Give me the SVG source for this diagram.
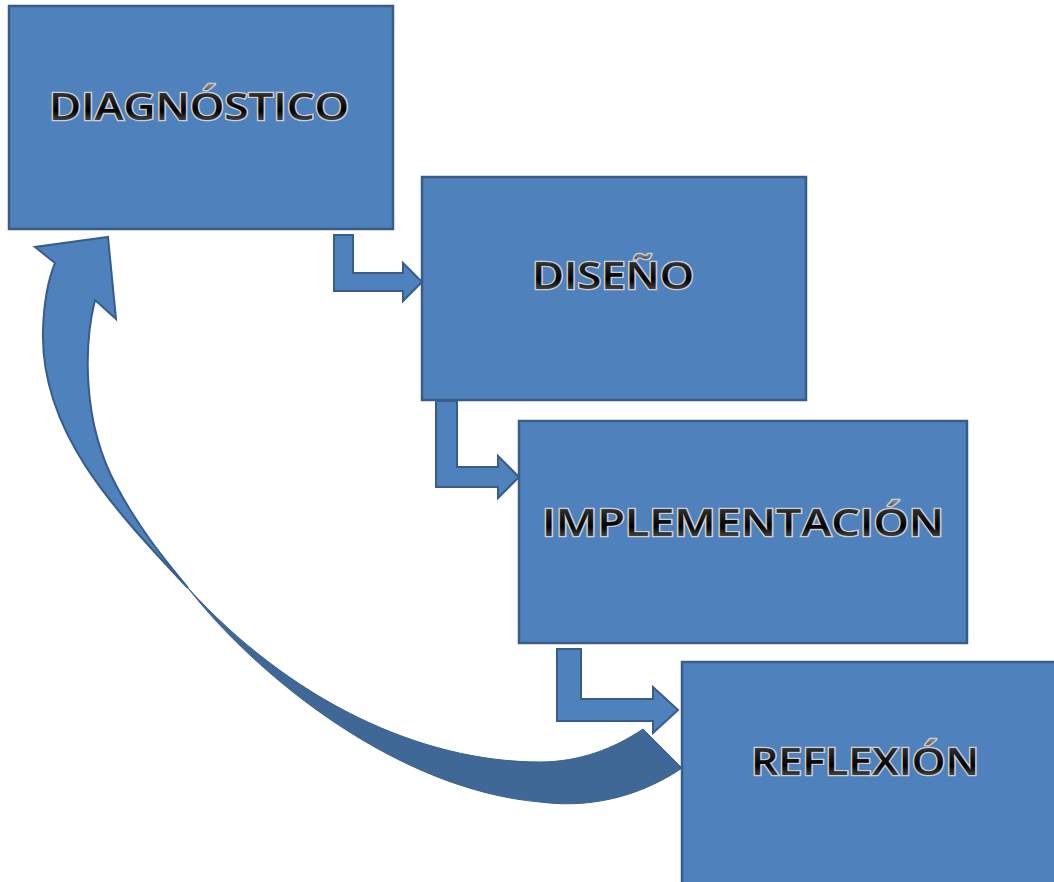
<svg xmlns="http://www.w3.org/2000/svg" width="1054" height="882" viewBox="0 0 1054 882">
  <defs>
    <linearGradient id="metal" x1="0" y1="0" x2="0" y2="1">
      <stop offset="0" stop-color="#b0b0b0"/>
      <stop offset="0.3" stop-color="#2a2a2a"/>
      <stop offset="0.6" stop-color="#000000"/>
      <stop offset="1" stop-color="#909090"/>
    </linearGradient>
    <style>
      .box { fill: #4F81BD; stroke: #385D8A; stroke-width: 2.5; }
      .conn { fill: #4F81BD; stroke: #385D8A; stroke-width: 2; stroke-linejoin: miter; }
      .back { fill: #3F6897; stroke: #3A6190; stroke-width: 1; }
      .lbl { font-family: "Open Sans", "Liberation Sans", sans-serif; font-size: 37px; font-weight: 600;
             fill: url(#metal); stroke: #cfcfcf; stroke-width: 2.6; paint-order: stroke fill; text-anchor: middle; }
    </style>
  </defs>

  <g id="connectors">
    <!-- bent arrows -->
    <polygon class="conn" points="334,235 353,235 353,273 403,273 403,263 422,282 403,301 403,291 334,291"/>
    <polygon class="conn" points="436,401 457,401 457,467 498,467 498,456 519,477 498,498 498,487 436,487"/>
    <polygon class="conn" points="557,649 581,649 581,699 653,699 653,687 678,710 653,733 653,721 557,721"/>
    <!-- curved return arrow: back face -->
    <path class="back" d="M188,588 C260,680 400,790 540,802 C600,810 650,790 682,768 L643,729 C615,748 580,762 540,762 C420,762 290,700 188,588 Z"/>
    <!-- curved return arrow: front face with head -->
    <path class="conn" d="M188,588 C165,560 140,530 117,487 C80,420 85,340 95,300 L116,319 L108,237 L35,247 L55,263 C48,280 44,300 43,330 C40,430 110,505 188,588 Z"/>
  </g>

  <g id="node-diagnostico">
    <rect class="box" x="9" y="6" width="384" height="223"/>
    <text class="lbl" x="199" y="120" textLength="300" lengthAdjust="spacingAndGlyphs">DIAGNÓSTICO</text>
  </g>
  <g id="node-diseno">
    <rect class="box" x="422" y="177" width="384" height="223"/>
    <text class="lbl" x="613" y="289" textLength="162" lengthAdjust="spacingAndGlyphs">DISEÑO</text>
  </g>
  <g id="node-implementacion">
    <rect class="box" x="519" y="421" width="448" height="222"/>
    <text class="lbl" x="743" y="536" textLength="402" lengthAdjust="spacingAndGlyphs">IMPLEMENTACIÓN</text>
  </g>
  <g id="node-reflexion">
    <rect class="box" x="682" y="662" width="380" height="230"/>
    <text class="lbl" x="865" y="775" textLength="228" lengthAdjust="spacingAndGlyphs">REFLEXIÓN</text>
  </g>
</svg>
